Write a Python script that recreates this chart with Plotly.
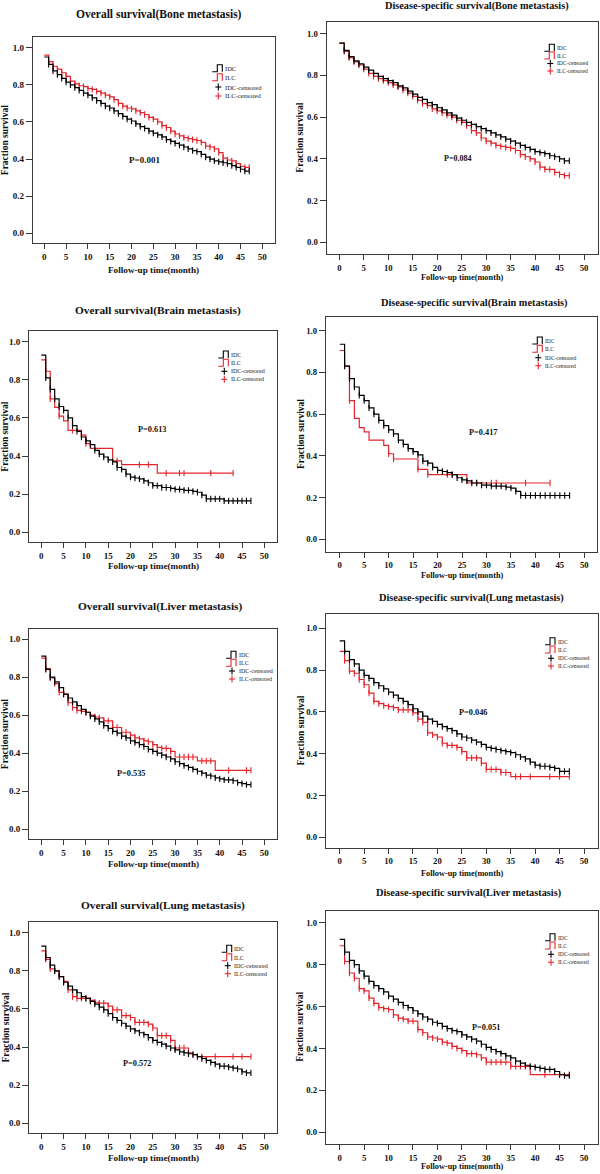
import plotly.graph_objects as go

W, H = 600, 1174
FONT = "Liberation Serif"
BLACK = "#000000"
RED = "#e3262d"
FRAME = "#3a3a3a"

months = [0, 1, 2, 3, 4, 5, 6, 7, 8, 9, 10, 11, 12, 13, 14, 15, 16, 17, 18, 19,
          20, 21, 22, 23, 24, 25, 26, 27, 28, 29, 30, 31, 32, 33, 34, 35, 36, 37, 38, 39,
          40, 41, 42, 43, 44, 45, 46, 47]
x_ticks = [0, 5, 10, 15, 20, 25, 30, 35, 40, 45, 50]
y_ticks = [0.0, 0.2, 0.4, 0.6, 0.8, 1.0]
y_tick_text = ["0.0", "0.2", "0.4", "0.6", "0.8", "1.0"]

# ---------- survival values (monthly step values) ----------
bone_os_idc = [0.95, 0.91, 0.875, 0.855, 0.835, 0.815, 0.80, 0.785, 0.77, 0.755,
               0.745, 0.73, 0.715, 0.70, 0.685, 0.675, 0.66, 0.645, 0.63, 0.615,
               0.605, 0.59, 0.575, 0.565, 0.55, 0.54, 0.53, 0.52, 0.505, 0.495,
               0.485, 0.475, 0.465, 0.455, 0.445, 0.44, 0.425, 0.41, 0.40, 0.39,
               0.385, 0.38, 0.375, 0.365, 0.355, 0.345, 0.335, 0.335]
bone_os_ilc = [0.96, 0.925, 0.90, 0.885, 0.865, 0.845, 0.82, 0.805, 0.795, 0.79,
               0.78, 0.775, 0.765, 0.755, 0.745, 0.735, 0.72, 0.70, 0.685, 0.675,
               0.67, 0.66, 0.65, 0.64, 0.625, 0.615, 0.60, 0.58, 0.57, 0.55,
               0.535, 0.525, 0.515, 0.51, 0.505, 0.50, 0.49, 0.47, 0.465, 0.455,
               0.435, 0.405, 0.395, 0.39, 0.375, 0.36, 0.355, 0.355]
bone_dss_idc = [0.955, 0.92, 0.89, 0.87, 0.855, 0.84, 0.825, 0.81, 0.795, 0.785,
                0.775, 0.765, 0.75, 0.74, 0.725, 0.71, 0.695, 0.685, 0.67, 0.66,
                0.645, 0.635, 0.62, 0.61, 0.595, 0.585, 0.575, 0.565, 0.555, 0.545,
                0.535, 0.525, 0.515, 0.505, 0.495, 0.485, 0.475, 0.465, 0.455, 0.445,
                0.435, 0.43, 0.425, 0.415, 0.41, 0.40, 0.39, 0.39]
bone_dss_ilc = [0.955, 0.915, 0.885, 0.865, 0.85, 0.83, 0.81, 0.795, 0.785, 0.775,
                0.765, 0.755, 0.745, 0.73, 0.715, 0.70, 0.68, 0.665, 0.655, 0.64,
                0.63, 0.62, 0.61, 0.60, 0.585, 0.575, 0.56, 0.535, 0.525, 0.50,
                0.485, 0.475, 0.465, 0.46, 0.455, 0.45, 0.44, 0.42, 0.41, 0.40,
                0.385, 0.36, 0.35, 0.35, 0.335, 0.325, 0.32, 0.32]
brain_os_idc = [0.93, 0.81, 0.75, 0.70, 0.66, 0.64, 0.60, 0.56, 0.53, 0.50,
                0.48, 0.46, 0.43, 0.41, 0.395, 0.38, 0.37, 0.34, 0.33, 0.305,
                0.29, 0.285, 0.28, 0.27, 0.26, 0.245, 0.245, 0.235, 0.235, 0.23,
                0.225, 0.225, 0.22, 0.22, 0.215, 0.21, 0.195, 0.175, 0.175, 0.175,
                0.175, 0.165, 0.165, 0.165, 0.165, 0.165, 0.165, 0.165]
brain_os_ilc = [0.905, 0.845, 0.70, 0.655, 0.61, 0.585, 0.535, 0.535, 0.535, 0.51,
                0.465, 0.44, 0.44, 0.44, 0.44, 0.44, 0.375, 0.375, 0.355, 0.355,
                0.355, 0.355, 0.355, 0.355, 0.355, 0.355, 0.31, 0.31, 0.31, 0.31,
                0.31, 0.31, 0.31, 0.31, 0.31, 0.31, 0.31, 0.31, 0.31, 0.31,
                0.31, 0.31, 0.31, 0.31]
brain_dss_idc = [0.935, 0.83, 0.77, 0.73, 0.69, 0.665, 0.63, 0.60, 0.57, 0.545,
                 0.525, 0.505, 0.475, 0.455, 0.435, 0.42, 0.405, 0.375, 0.365, 0.345,
                 0.33, 0.325, 0.32, 0.31, 0.295, 0.285, 0.28, 0.27, 0.27, 0.26,
                 0.26, 0.255, 0.255, 0.255, 0.25, 0.245, 0.23, 0.21, 0.21, 0.21,
                 0.21, 0.21, 0.21, 0.21, 0.21, 0.21, 0.21, 0.21]
brain_dss_ilc = [0.905, 0.83, 0.665, 0.58, 0.535, 0.515, 0.475, 0.475, 0.475, 0.45,
                 0.41, 0.385, 0.385, 0.385, 0.385, 0.385, 0.335, 0.335, 0.31, 0.31,
                 0.31, 0.31, 0.31, 0.31, 0.31, 0.31, 0.27, 0.27, 0.27, 0.27,
                 0.27, 0.27, 0.27, 0.27, 0.27, 0.27, 0.27, 0.27, 0.27, 0.27,
                 0.27, 0.27, 0.27, 0.27]
liver_os_idc = [0.91, 0.84, 0.80, 0.775, 0.745, 0.71, 0.69, 0.67, 0.65, 0.63,
                0.615, 0.595, 0.58, 0.565, 0.545, 0.53, 0.515, 0.505, 0.49, 0.48,
                0.465, 0.455, 0.445, 0.435, 0.42, 0.41, 0.40, 0.39, 0.38, 0.37,
                0.355, 0.345, 0.335, 0.325, 0.315, 0.305, 0.295, 0.285, 0.28, 0.27,
                0.265, 0.26, 0.26, 0.255, 0.245, 0.24, 0.235, 0.235]
liver_os_ilc = [0.90, 0.845, 0.795, 0.765, 0.72, 0.71, 0.665, 0.64, 0.625, 0.62,
                0.615, 0.60, 0.59, 0.585, 0.57, 0.57, 0.535, 0.535, 0.51, 0.51,
                0.495, 0.48, 0.475, 0.465, 0.46, 0.445, 0.43, 0.425, 0.425, 0.41,
                0.38, 0.38, 0.38, 0.38, 0.38, 0.36, 0.36, 0.36, 0.36, 0.31,
                0.31, 0.31, 0.31, 0.31, 0.31, 0.31, 0.31, 0.31]
lung_dss_idc = [0.94, 0.89, 0.85, 0.83, 0.80, 0.775, 0.76, 0.74, 0.725, 0.71,
                0.695, 0.68, 0.665, 0.65, 0.635, 0.615, 0.60, 0.58, 0.565, 0.555,
                0.54, 0.53, 0.52, 0.51, 0.495, 0.48, 0.475, 0.465, 0.455, 0.445,
                0.43, 0.425, 0.42, 0.415, 0.41, 0.405, 0.395, 0.385, 0.375, 0.36,
                0.345, 0.34, 0.34, 0.335, 0.33, 0.315, 0.315, 0.315]
lung_dss_ilc = [0.89, 0.845, 0.795, 0.785, 0.755, 0.73, 0.69, 0.65, 0.64, 0.63,
                0.625, 0.62, 0.61, 0.61, 0.61, 0.595, 0.565, 0.55, 0.50, 0.49,
                0.48, 0.45, 0.44, 0.44, 0.43, 0.41, 0.38, 0.38, 0.38, 0.355,
                0.325, 0.325, 0.325, 0.31, 0.31, 0.29, 0.29, 0.29, 0.29, 0.29,
                0.29, 0.29, 0.29, 0.29, 0.29, 0.29, 0.29, 0.29]
lung_os_idc = [0.93, 0.87, 0.83, 0.80, 0.77, 0.74, 0.72, 0.70, 0.685, 0.665,
               0.655, 0.64, 0.625, 0.61, 0.595, 0.575, 0.555, 0.54, 0.525, 0.51,
               0.495, 0.485, 0.475, 0.465, 0.45, 0.435, 0.425, 0.415, 0.405, 0.395,
               0.385, 0.375, 0.37, 0.365, 0.36, 0.35, 0.34, 0.33, 0.32, 0.31,
               0.30, 0.30, 0.295, 0.29, 0.285, 0.27, 0.265, 0.265]
lung_os_ilc = [0.905, 0.86, 0.81, 0.80, 0.77, 0.745, 0.70, 0.665, 0.655, 0.655,
               0.655, 0.645, 0.635, 0.63, 0.63, 0.615, 0.595, 0.595, 0.565, 0.565,
               0.555, 0.53, 0.53, 0.53, 0.52, 0.50, 0.46, 0.46, 0.46, 0.435,
               0.395, 0.395, 0.395, 0.37, 0.36, 0.35, 0.35, 0.35, 0.35, 0.35,
               0.35, 0.35, 0.35, 0.35, 0.35, 0.35, 0.35, 0.35]
liver_dss_idc = [0.92, 0.86, 0.82, 0.80, 0.77, 0.745, 0.72, 0.70, 0.685, 0.67,
                 0.65, 0.635, 0.62, 0.605, 0.595, 0.58, 0.565, 0.55, 0.54, 0.525,
                 0.52, 0.505, 0.495, 0.485, 0.48, 0.465, 0.455, 0.445, 0.435, 0.42,
                 0.405, 0.395, 0.385, 0.375, 0.365, 0.355, 0.34, 0.33, 0.32, 0.315,
                 0.31, 0.305, 0.30, 0.30, 0.29, 0.275, 0.27, 0.27]
liver_dss_ilc = [0.89, 0.815, 0.76, 0.735, 0.685, 0.675, 0.64, 0.615, 0.595, 0.59,
                 0.585, 0.56, 0.545, 0.54, 0.53, 0.53, 0.49, 0.475, 0.455, 0.45,
                 0.445, 0.43, 0.425, 0.41, 0.40, 0.39, 0.375, 0.375, 0.37, 0.355,
                 0.335, 0.335, 0.335, 0.335, 0.335, 0.315, 0.315, 0.315, 0.315, 0.275,
                 0.275, 0.275, 0.275, 0.275, 0.275, 0.275, 0.275, 0.275]

# ---------- censoring times ----------
cens_all = [1, 2, 3, 4, 5, 6, 7, 8, 9, 10, 11, 12, 13, 14, 15, 16, 17, 18, 19, 20,
            21, 22, 23, 24, 25, 26, 27, 28, 29, 30, 31, 32, 33, 34, 35, 36, 37, 38, 39, 40,
            41, 42, 43, 44, 45, 46, 47]
brain_os_ilc_c = [1, 2, 4, 7, 9, 10, 17, 22, 24, 28, 31, 32, 38, 43]
brain_dss_ilc_c = [1, 2, 10, 11, 16, 18, 22, 23, 28, 31, 32, 38, 43]
liver_os_ilc_c = [1, 2, 3, 4, 5, 6, 7, 8, 9, 10, 11, 12, 13, 14, 15, 16, 17, 18, 19, 20,
                  21, 22, 23, 24, 25, 26, 27, 28, 29, 31, 32, 33, 34, 36, 37, 38, 42, 46, 47]
lung_dss_ilc_c = [1, 2, 3, 4, 5, 6, 7, 8, 9, 10, 11, 12, 13, 14, 15, 16, 17, 18, 19, 20,
                  21, 22, 23, 24, 25, 26, 27, 28, 29, 30, 31, 32, 33, 34, 36, 37, 39, 43, 45, 47]
lung_os_ilc_c = [1, 2, 3, 4, 5, 6, 7, 8, 9, 10, 11, 12, 13, 14, 15, 16, 17, 18, 19, 20,
                 21, 22, 23, 24, 25, 26, 27, 28, 29, 30, 31, 32, 33, 34, 36, 39, 43, 45, 47]
liver_dss_ilc_c = [1, 2, 3, 4, 5, 6, 7, 8, 9, 10, 11, 12, 13, 14, 15, 16, 17, 18, 19, 20,
                   21, 22, 23, 24, 25, 26, 27, 28, 29, 30, 31, 32, 33, 34, 35, 36, 37, 38, 42, 45, 47]

titles = ["Overall survival(Bone metastasis)", "Disease-specific survival(Bone metastasis)",
          "Overall survival(Brain metastasis)", "Disease-specific survival(Brain metastasis)",
          "Overall survival(Liver metastasis)", "Disease-specific survival(Lung metastasis)",
          "Overall survival(Lung metastasis)", "Disease-specific survival(Liver metastasis)"]
p_values = ["P=0.001", "P=0.084", "P=0.613", "P=0.417", "P=0.535", "P=0.046", "P=0.572", "P=0.051"]
legend_labels = ["IDC", "ILC", "IDC-censored", "ILC-censored"]
x_title = "Follow-up time(month)"
y_title = "Fraction survival"

curves = [
    (bone_os_idc, cens_all, bone_os_ilc, cens_all),
    (bone_dss_idc, cens_all, bone_dss_ilc, cens_all),
    (brain_os_idc, cens_all, brain_os_ilc, brain_os_ilc_c),
    (brain_dss_idc, cens_all, brain_dss_ilc, brain_dss_ilc_c),
    (liver_os_idc, cens_all, liver_os_ilc, liver_os_ilc_c),
    (lung_dss_idc, cens_all, lung_dss_ilc, lung_dss_ilc_c),
    (lung_os_idc, cens_all, lung_os_ilc, lung_os_ilc_c),
    (liver_dss_idc, cens_all, liver_dss_ilc, liver_dss_ilc_c),
]

# ---------- layout geometry (pixels) ----------
layout_px = [
    dict(box=(33, 275.3, 37, 243.3), xc=(44.3, 262.3), yc=(47.7, 233.3), t=(158.7, 14, 11.5),
         p=(144.3, 160.3, 9), leg=(212.3, [68.7, 77.7, 87.0, 96.0], 6.5), xt=(153.7, 270, 9.2), yt=5, tk=9),
    dict(box=(326.7, 597.7, 22.3, 254), xc=(339.3, 584), yc=(33.7, 242.3), t=(477, 6, 10.3),
         p=(457, 159, 8), leg=(544.3, [48.3, 56, 63.5, 71], 5.6), xt=(462, 278, 8.3), yt=300.5, tk=8.7),
    dict(box=(29.3, 276.7, 331, 542.3), xc=(41.3, 264.3), yc=(341.7, 532.3), t=(158.3, 310.7, 11.3),
         p=(152.3, 429.3, 8.3), leg=(218.3, [355, 363.3, 371.3, 379.3], 6.0), xt=(153, 566, 9.2), yt=5, tk=9),
    dict(box=(326, 596.7, 317.3, 551.7), xc=(339.7, 584.3), yc=(330.7, 539.3), t=(473.8, 302.7, 10.3),
         p=(482.7, 432.7, 8.3), leg=(532.3, [341, 349.3, 357.7, 365.7], 5.6), xt=(462, 575, 8.3), yt=300.5, tk=8.7),
    dict(box=(29.3, 276.7, 629, 839.3), xc=(41.3, 264.3), yc=(639, 829.3), t=(160.3, 606.7, 11.3),
         p=(131, 773.7, 8.3), leg=(226, [655.3, 663.3, 671, 679], 6.0), xt=(153, 864, 9.2), yt=5, tk=9),
    dict(box=(326, 597.7, 614.3, 847.7), xc=(339.7, 584), yc=(628.3, 837.3), t=(471.7, 598.3, 10.3),
         p=(473.3, 712.7, 8.3), leg=(545, [641.7, 650, 658.3, 666], 5.6), xt=(462, 873.3, 8.3), yt=300.5, tk=8.7),
    dict(box=(29.3, 276.7, 921.7, 1133.3), xc=(41.3, 264.3), yc=(932.7, 1123.3), t=(163.3, 905, 11.3),
         p=(136.7, 1063.3, 8.3), leg=(221.7, [949.3, 957.7, 965.7, 973.7], 6.0), xt=(153, 1157.7, 9.2), yt=5, tk=9),
    dict(box=(326, 597.7, 910.7, 1144), xc=(339.7, 584), yc=(922.7, 1132.3), t=(468.8, 893.3, 10.3),
         p=(486, 1027.3, 8.3), leg=(545, [937.7, 946, 954.3, 962.3], 5.6), xt=(462, 1166.7, 8.3), yt=300.5, tk=8.7),
]


def fx(px):
    return px / W


def fy(py):
    return 1 - py / H


def step_at(vals, t):
    i = int(t)
    if i >= len(vals):
        i = len(vals) - 1
    return vals[i]


fig = go.Figure()
annotations = []
shapes = []

for k, ((idc, idc_c, ilc, ilc_c), g) in enumerate(zip(curves, layout_px)):
    ax = "" if k == 0 else str(k + 1)
    xa, ya = "x" + ax, "y" + ax
    for vals, cens, col in ((ilc, ilc_c, RED), (idc, idc_c, BLACK)):
        fig.add_trace(go.Scatter(x=months[:len(vals)], y=vals, mode="lines",
                                 line=dict(color=col, width=1.2, shape="hv"),
                                 xaxis=xa, yaxis=ya, showlegend=False, hoverinfo="skip"))
        cx = [t for t in cens if t < len(vals)]
        cy = [step_at(vals, t) for t in cx]
        fig.add_trace(go.Scatter(x=cx, y=cy, mode="markers",
                                 marker=dict(symbol="line-ns", size=4.5,
                                             line=dict(color=col, width=1.1)),
                                 xaxis=xa, yaxis=ya, showlegend=False, hoverinfo="skip"))

    x0, x1, y0, y1 = g["box"]
    xp0, xp50 = g["xc"]
    yp1, yp0 = g["yc"]
    a = (xp50 - xp0) / 50.0
    b = (yp0 - yp1) / 1.0
    xr = [(x0 - xp0) / a, (x1 - xp0) / a]
    yr = [(yp0 - y1) / b, (yp0 - y0) / b]
    common = dict(showline=True, mirror=True, linecolor=FRAME, linewidth=1.3,
                  ticks="outside", tickwidth=1, tickcolor=FRAME,
                  showgrid=False, zeroline=False,
                  tickfont=dict(family=FONT, size=g["tk"], color="#111", weight="bold"))
    fig.update_layout(**{
        "xaxis" + ax: dict(domain=[fx(x0), fx(x1)], range=xr, tickvals=x_ticks, ticklen=5,
                           anchor=ya, **common),
        "yaxis" + ax: dict(domain=[fy(y1), fy(y0)], range=yr, tickvals=y_ticks, ticklen=6,
                           ticktext=y_tick_text, anchor=xa, **common),
    })

    tx, ty, ts = g["t"]
    annotations.append(dict(x=fx(tx), y=fy(ty), xref="paper", yref="paper", text=titles[k],
                            showarrow=False, xanchor="center", yanchor="middle",
                            font=dict(family=FONT, size=ts, color="#111", weight="bold")))
    px_, py_, ps = g["p"]
    annotations.append(dict(x=fx(px_), y=fy(py_), xref="paper", yref="paper", text=p_values[k],
                            showarrow=False, xanchor="center", yanchor="middle",
                            font=dict(family=FONT, size=ps, color="#111", weight="bold")))
    xtx, xty, xts = g["xt"]
    annotations.append(dict(x=fx(xtx), y=fy(xty), xref="paper", yref="paper", text=x_title,
                            showarrow=False, xanchor="center", yanchor="middle",
                            font=dict(family=FONT, size=xts, color="#111", weight="bold")))
    annotations.append(dict(x=fx(g["yt"]), y=fy((y0 + y1) / 2), xref="paper", yref="paper",
                            text=y_title, textangle=-90, showarrow=False,
                            xanchor="center", yanchor="middle",
                            font=dict(family=FONT, size=9.5, color="#111", weight="bold")))

    # legend
    lx, rows, lsz = g["leg"]
    for j, (lab, ry) in enumerate(zip(legend_labels, rows)):
        col = BLACK if j % 2 == 0 else RED
        if j < 2:
            yb, yt_ = ry + 3, ry - 4
            path = (f"M {fx(lx)},{fy(yb)} L {fx(lx + 5)},{fy(yb)} L {fx(lx + 5)},{fy(yt_)} "
                    f"L {fx(lx + 10)},{fy(yt_)} L {fx(lx + 10)},{fy(yb)}")
            shapes.append(dict(type="path", xref="paper", yref="paper", path=path,
                               line=dict(color=col, width=1.1)))
        else:
            cxp = lx + 6
            shapes.append(dict(type="line", xref="paper", yref="paper",
                               x0=fx(cxp - 3), x1=fx(cxp + 3), y0=fy(ry), y1=fy(ry),
                               line=dict(color=col, width=1.1)))
            shapes.append(dict(type="line", xref="paper", yref="paper",
                               x0=fx(cxp), x1=fx(cxp), y0=fy(ry - 3.5), y1=fy(ry + 3.5),
                               line=dict(color=col, width=1.1)))
        annotations.append(dict(x=fx(lx + 10.5), y=fy(ry), xref="paper", yref="paper", text=lab,
                                showarrow=False, xanchor="left", yanchor="middle",
                                font=dict(family=FONT, size=lsz, color="#222")))

fig.update_layout(width=W, height=H, autosize=False,
                  margin=dict(l=0, r=0, t=0, b=0),
                  paper_bgcolor="white", plot_bgcolor="white",
                  showlegend=False, annotations=annotations, shapes=shapes)

fig.write_html("out.html", config={"displayModeBar": False},
               post_script="document.body.style.margin='0';document.body.style.overflow='hidden';")
